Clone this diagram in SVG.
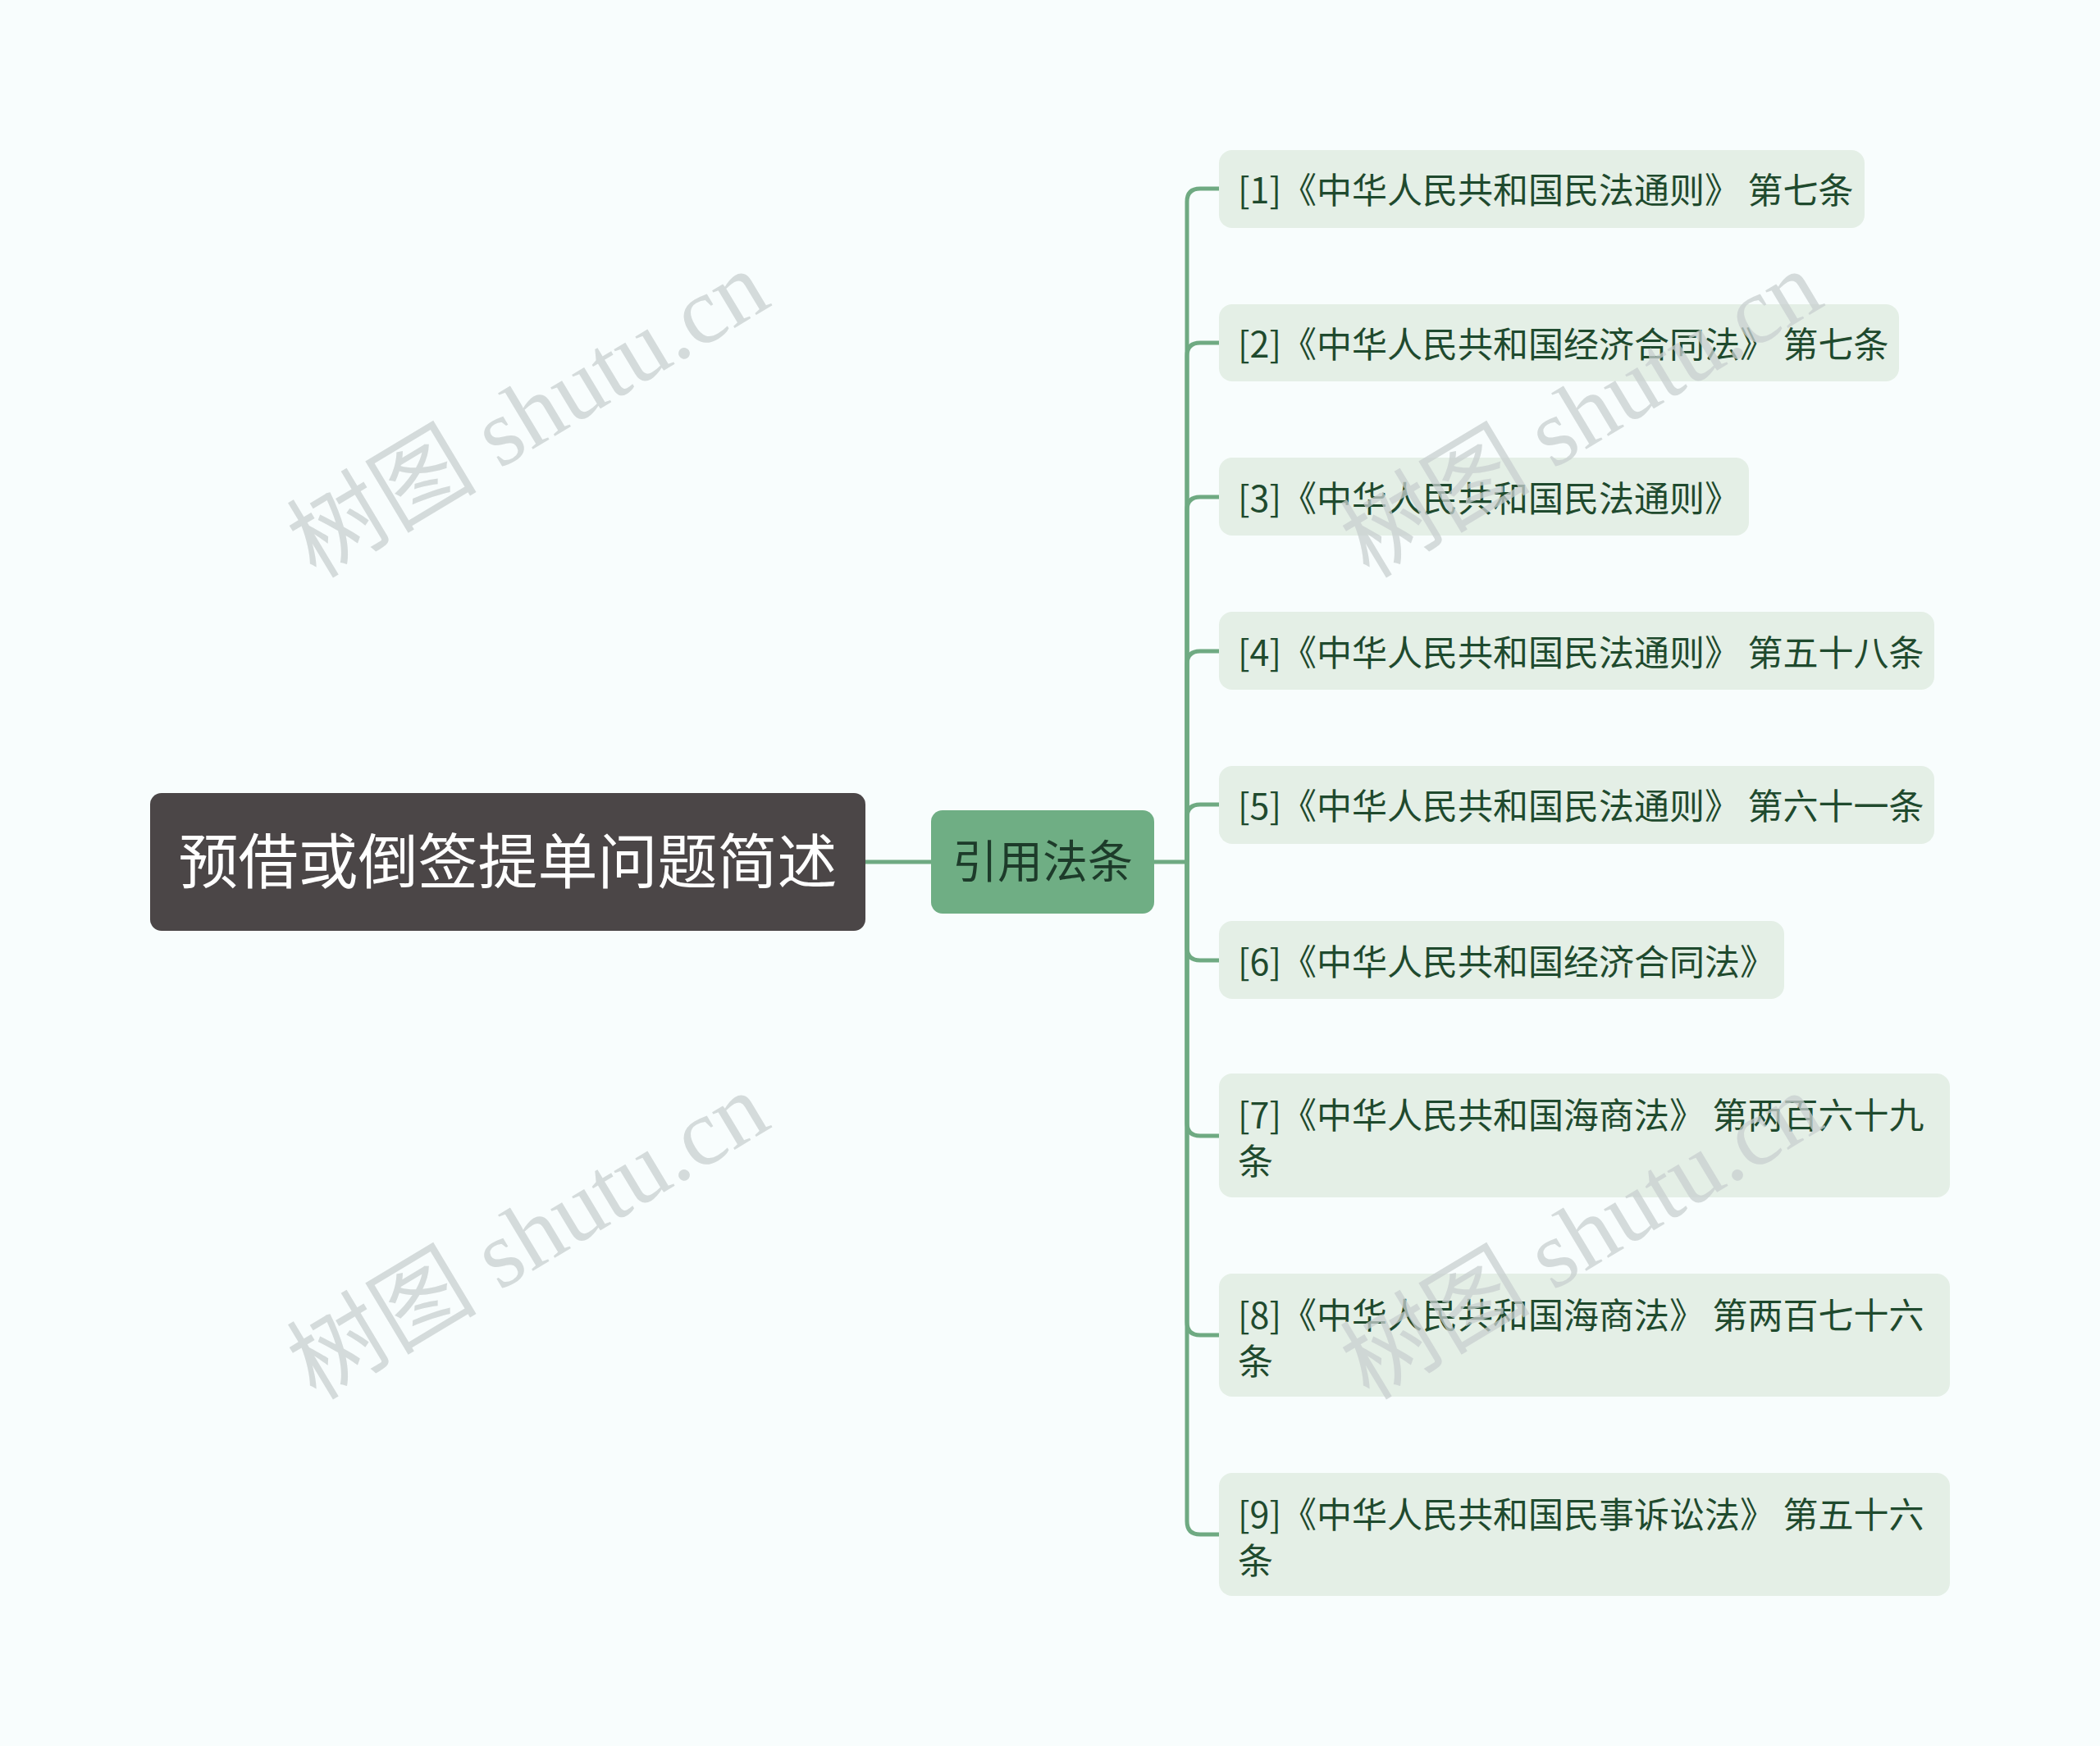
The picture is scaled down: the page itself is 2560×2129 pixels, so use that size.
<svg xmlns="http://www.w3.org/2000/svg" width="2560" height="2129" viewBox="0 0 2560 2129">
<style>
.leaf{fill:#e4efe6}
.lt{font-family:"Noto Sans CJK SC","Noto Sans",sans-serif;font-size:43px;fill:#1f4a2e}
.wm{font-family:"Liberation Serif","Noto Sans CJK SC",serif;font-size:116px;fill:#c9d0d0;opacity:0.75}
.con{fill:none;stroke:#6faa82;stroke-width:5}
</style>
<rect width="2560" height="2129" fill="#f8fdfd"/>
<g id="connectors">
<path class="con" d="M1055 1051H1135"/>
<path class="con" d="M1407 1051H1447"/>
<path class="con" d="M1447 1051V246Q1447 230 1463 230H1486"/>
<path class="con" d="M1447 1051V434Q1447 418 1463 418H1486"/>
<path class="con" d="M1447 1051V622Q1447 606 1463 606H1486"/>
<path class="con" d="M1447 1051V810Q1447 794 1463 794H1486"/>
<path class="con" d="M1447 1051V997Q1447 981 1463 981H1486"/>
<path class="con" d="M1447 1051V1155Q1447 1171 1463 1171H1486"/>
<path class="con" d="M1447 1051V1369Q1447 1385 1463 1385H1486"/>
<path class="con" d="M1447 1051V1612Q1447 1628 1463 1628H1486"/>
<path class="con" d="M1447 1051V1855Q1447 1871 1463 1871H1486"/>
</g>
<g id="root">
<rect x="183" y="967" width="872" height="168" rx="14" fill="#4b4647"/>
<text x="619" y="1077" text-anchor="middle" font-family="Noto Sans CJK SC, Noto Sans, sans-serif" font-size="73" fill="#ffffff">预借或倒签提单问题简述</text>
</g>
<g id="sub">
<rect x="1135" y="988" width="272" height="126" rx="14" fill="#6fae84"/>
<text x="1271" y="1070" text-anchor="middle" font-family="Noto Sans CJK SC, Noto Sans, sans-serif" font-size="55" fill="#1d3b2a">引用法条</text>
</g>
<g id="leaf1"><rect class="leaf" x="1486" y="183" width="787" height="95" rx="16"/><text class="lt" x="1509" y="248">[1]《中华人民共和国民法通则》 第七条</text></g>
<g id="leaf2"><rect class="leaf" x="1486" y="371" width="829" height="94" rx="16"/><text class="lt" x="1509" y="436">[2]《中华人民共和国经济合同法》 第七条</text></g>
<g id="leaf3"><rect class="leaf" x="1486" y="558" width="646" height="95" rx="16"/><text class="lt" x="1509" y="624">[3]《中华人民共和国民法通则》</text></g>
<g id="leaf4"><rect class="leaf" x="1486" y="746" width="872" height="95" rx="16"/><text class="lt" x="1509" y="812">[4]《中华人民共和国民法通则》 第五十八条</text></g>
<g id="leaf5"><rect class="leaf" x="1486" y="934" width="872" height="95" rx="16"/><text class="lt" x="1509" y="999">[5]《中华人民共和国民法通则》 第六十一条</text></g>
<g id="leaf6"><rect class="leaf" x="1486" y="1123" width="689" height="95" rx="16"/><text class="lt" x="1509" y="1189">[6]《中华人民共和国经济合同法》</text></g>
<g id="leaf7"><rect class="leaf" x="1486" y="1309" width="891" height="151" rx="16"/><text class="lt" x="1509" y="1376">[7]《中华人民共和国海商法》 第两百六十九</text><text class="lt" x="1509" y="1432">条</text></g>
<g id="leaf8"><rect class="leaf" x="1486" y="1553" width="891" height="150" rx="16"/><text class="lt" x="1509" y="1620">[8]《中华人民共和国海商法》 第两百七十六</text><text class="lt" x="1509" y="1676">条</text></g>
<g id="leaf9"><rect class="leaf" x="1486" y="1796" width="891" height="150" rx="16"/><text class="lt" x="1509" y="1863">[9]《中华人民共和国民事诉讼法》 第五十六</text><text class="lt" x="1509" y="1919">条</text></g>
<g id="watermarks">
<text class="wm" text-anchor="middle" transform="translate(664 539) rotate(-31)">树图 shutu.cn</text>
<text class="wm" text-anchor="middle" transform="translate(1948 539) rotate(-31)">树图 shutu.cn</text>
<text class="wm" text-anchor="middle" transform="translate(664 1541) rotate(-31)">树图 shutu.cn</text>
<text class="wm" text-anchor="middle" transform="translate(1948 1541) rotate(-31)">树图 shutu.cn</text>
</g>
</svg>
